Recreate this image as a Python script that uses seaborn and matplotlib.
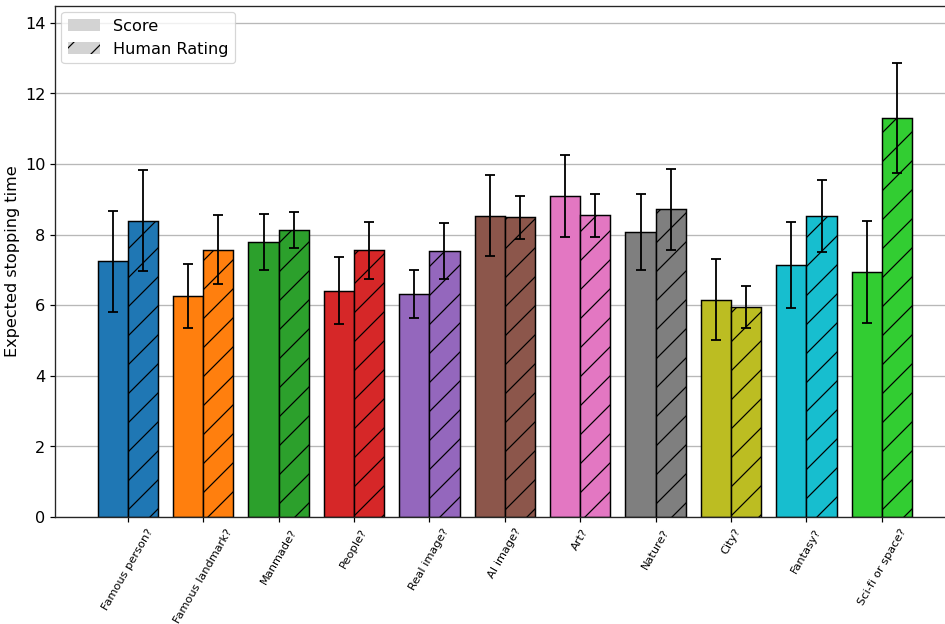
import numpy as np
import pandas as pd
import matplotlib
matplotlib.use("Agg")
import matplotlib.pyplot as plt
import seaborn as sns
from matplotlib.patches import Patch

categories = ["Famous person?", "Famous landmark?", "Manmade?", "People?", "Real image?",
              "AI image?", "Art?", "Nature?", "City?", "Fantasy?", "Sci-fi or space?"]
score = [7.25, 6.26, 7.79, 6.41, 6.32, 8.53, 9.09, 8.08, 6.16, 7.13, 6.93]
score_err = [1.43, 0.92, 0.80, 0.95, 0.67, 1.15, 1.15, 1.07, 1.14, 1.22, 1.44]
human = [8.39, 7.57, 8.13, 7.55, 7.53, 8.49, 8.54, 8.71, 5.94, 8.52, 11.30]
human_err = [1.43, 0.97, 0.51, 0.80, 0.80, 0.61, 0.62, 1.14, 0.59, 1.02, 1.56]
kinds = ["Score", "Human Rating"]

colors = list(sns.color_palette("tab10")) + ["limegreen"]

df = pd.DataFrame({
    "question": categories * 2,
    "value": score + human,
    "kind": [kinds[0]] * len(categories) + [kinds[1]] * len(categories),
})

sns.set_style("ticks")
plt.rcParams["font.family"] = ["DejaVu Sans"]
plt.rcParams["hatch.linewidth"] = 1.0
plt.rcParams["hatch.color"] = "black"
for key in ["text.color", "axes.labelcolor", "xtick.color", "ytick.color"]:
    plt.rcParams[key] = "black"

DPI = 87.5
fig = plt.figure(figsize=(945.2 / DPI, 624.2 / DPI), dpi=DPI)
ax = fig.add_axes([55 / 945, 107 / 624, 1 - 55 / 945, 511 / 624])

sns.barplot(data=df, x="question", y="value", hue="kind", errorbar=None,
            palette=["lightgray", "lightgray"], edgecolor="black", linewidth=1.2,
            legend=False, ax=ax)

errs = [score_err, human_err]
bar_containers = list(ax.containers)
for k, container in enumerate(bar_containers):
    for i, bar in enumerate(container):
        bar.set_facecolor(colors[i])
        bar.set_edgecolor("black")
        bar.set_zorder(2)
        if k == 1:
            bar.set_hatch("/")
        x = bar.get_x() + bar.get_width() / 2
        ax.errorbar(x, bar.get_height(), yerr=errs[k][i], color="black",
                    elinewidth=1.5, capsize=4.2, capthick=1.5, zorder=3)

ax.set_xlim(-0.965, 10.84)
ax.set_ylim(0, 14.48)
ax.set_yticks(np.arange(0, 15, 2))
ax.yaxis.grid(True, color="0.72", linewidth=1.1, zorder=0)
ax.set_axisbelow(True)
ax.set_xlabel("")
ax.set_ylabel("Expected stopping time", fontsize=13.3)
ax.tick_params(axis="y", labelsize=13.3, length=4.5, width=1.0)
ax.tick_params(axis="x", labelsize=9.4, length=4.5, width=1.0)
plt.setp(ax.get_xticklabels(), rotation=60)
ax.spines["right"].set_visible(False)
for s in ["left", "bottom", "top"]:
    ax.spines[s].set_linewidth(1.1)
    ax.spines[s].set_color("0.15")

handles = [Patch(facecolor="lightgray", edgecolor="lightgray", linewidth=0, label=kinds[0]),
           Patch(facecolor="lightgray", edgecolor="black", linewidth=0, hatch="/", label=kinds[1])]
ax.legend(handles=handles, loc="upper left", fontsize=13.3, frameon=True,
          borderaxespad=0.4, handlelength=2.0)

fig.savefig("out.png", dpi=DPI)
